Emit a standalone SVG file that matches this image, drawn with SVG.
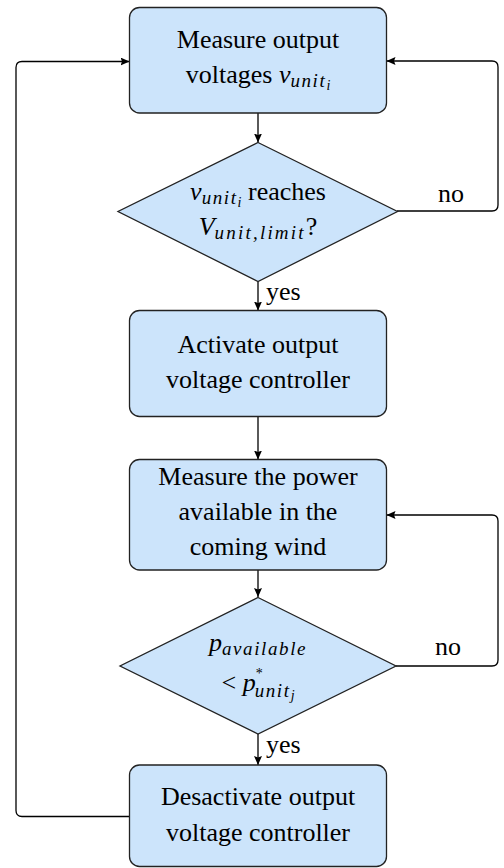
<svg xmlns="http://www.w3.org/2000/svg" width="504" height="868" viewBox="0 0 504 868">
<style>
.box{fill:#cce4fb;stroke:#222;stroke-width:1.3}
text{font-family:'Liberation Serif','Times New Roman','DejaVu Serif',serif;font-size:26px;fill:#000}
.t{text-anchor:middle}
.m{font-style:italic}
.s{font-style:italic;font-size:19px;letter-spacing:1.6px}
.ss{font-style:italic;font-size:14px}
.c{fill:none;stroke:#000;stroke-width:1.3}
</style>
<defs>
<marker id="ah" markerWidth="10" markerHeight="8" refX="9" refY="4" orient="auto" markerUnits="userSpaceOnUse">
<path d="M0,0 L9,4 L0,8 L1.5,4 z" fill="#000"/>
</marker>
</defs>
<rect width="504" height="868" fill="#fff"/>
<g id="connectors">
<path class="c" d="M258,113 V142.5" marker-end="url(#ah)"/>
<path class="c" d="M258,281.5 V310.5" marker-end="url(#ah)"/>
<path class="c" d="M258,416.5 V459.5" marker-end="url(#ah)"/>
<path class="c" d="M258,570 V597" marker-end="url(#ah)"/>
<path class="c" d="M258,734 V765" marker-end="url(#ah)"/>
<path class="c" d="M397,211 H492 Q498,211 498,205 V67 Q498,61 492,61 H386.5" marker-end="url(#ah)"/>
<path class="c" d="M396,666 H492 Q498,666 498,660 V521 Q498,515 492,515 H386.5" marker-end="url(#ah)"/>
<path class="c" d="M129.5,816.5 H22 Q16,816.5 16,810.5 V67.5 Q16,61.5 22,61.5 H129.5" marker-end="url(#ah)"/>
<text x="438" y="201.5">no</text>
<text x="435" y="655">no</text>
<text x="266" y="300">yes</text>
<text x="266" y="753">yes</text>
</g>
<g id="n1">
<rect class="box" x="129.5" y="7.5" width="257" height="105.5" rx="10"/>
<text class="t" x="258" y="48">Measure output</text>
<text class="t" x="258" y="83">voltages <tspan class="m">v</tspan><tspan class="s" dy="4">unit</tspan><tspan class="ss" dy="3">i</tspan></text>
</g>
<g id="n2">
<polygon class="box" points="258,142.5 397.5,211.5 258,281.5 118,211.5"/>
<text class="t" x="258" y="200"><tspan class="m">v</tspan><tspan class="s" dy="4">unit</tspan><tspan class="ss" dy="3">i</tspan><tspan dy="-7"> reaches</tspan></text>
<text class="t" x="258" y="235"><tspan class="m">V</tspan><tspan class="s" dy="4" style="letter-spacing:2.2px">unit,limit</tspan><tspan dy="-4">?</tspan></text>
</g>
<g id="n3">
<rect class="box" x="129.5" y="310.5" width="257" height="106" rx="10"/>
<text class="t" x="258" y="353">Activate output</text>
<text class="t" x="258" y="388">voltage controller</text>
</g>
<g id="n4">
<rect class="box" x="129.5" y="459.5" width="257" height="110.5" rx="10"/>
<text class="t" x="258" y="485">Measure the power</text>
<text class="t" x="258" y="520">available in the</text>
<text class="t" x="258" y="555">coming wind</text>
</g>
<g id="n5">
<polygon class="box" points="258,597.5 396,666 258,734 120,666"/>
<text class="t" x="258" y="651"><tspan class="m">p</tspan><tspan class="s" dy="4">available</tspan></text>
<text class="t" x="258" y="691">&lt; <tspan class="m">p</tspan><tspan font-size="14" dy="-13">*</tspan><tspan class="s" dx="-8" dy="19">unit</tspan><tspan class="ss" dy="3">j</tspan></text>
</g>
<g id="n6">
<rect class="box" x="129.5" y="765" width="257" height="101.5" rx="10"/>
<text class="t" x="258" y="805">Desactivate output</text>
<text class="t" x="258" y="841">voltage controller</text>
</g>
</svg>
